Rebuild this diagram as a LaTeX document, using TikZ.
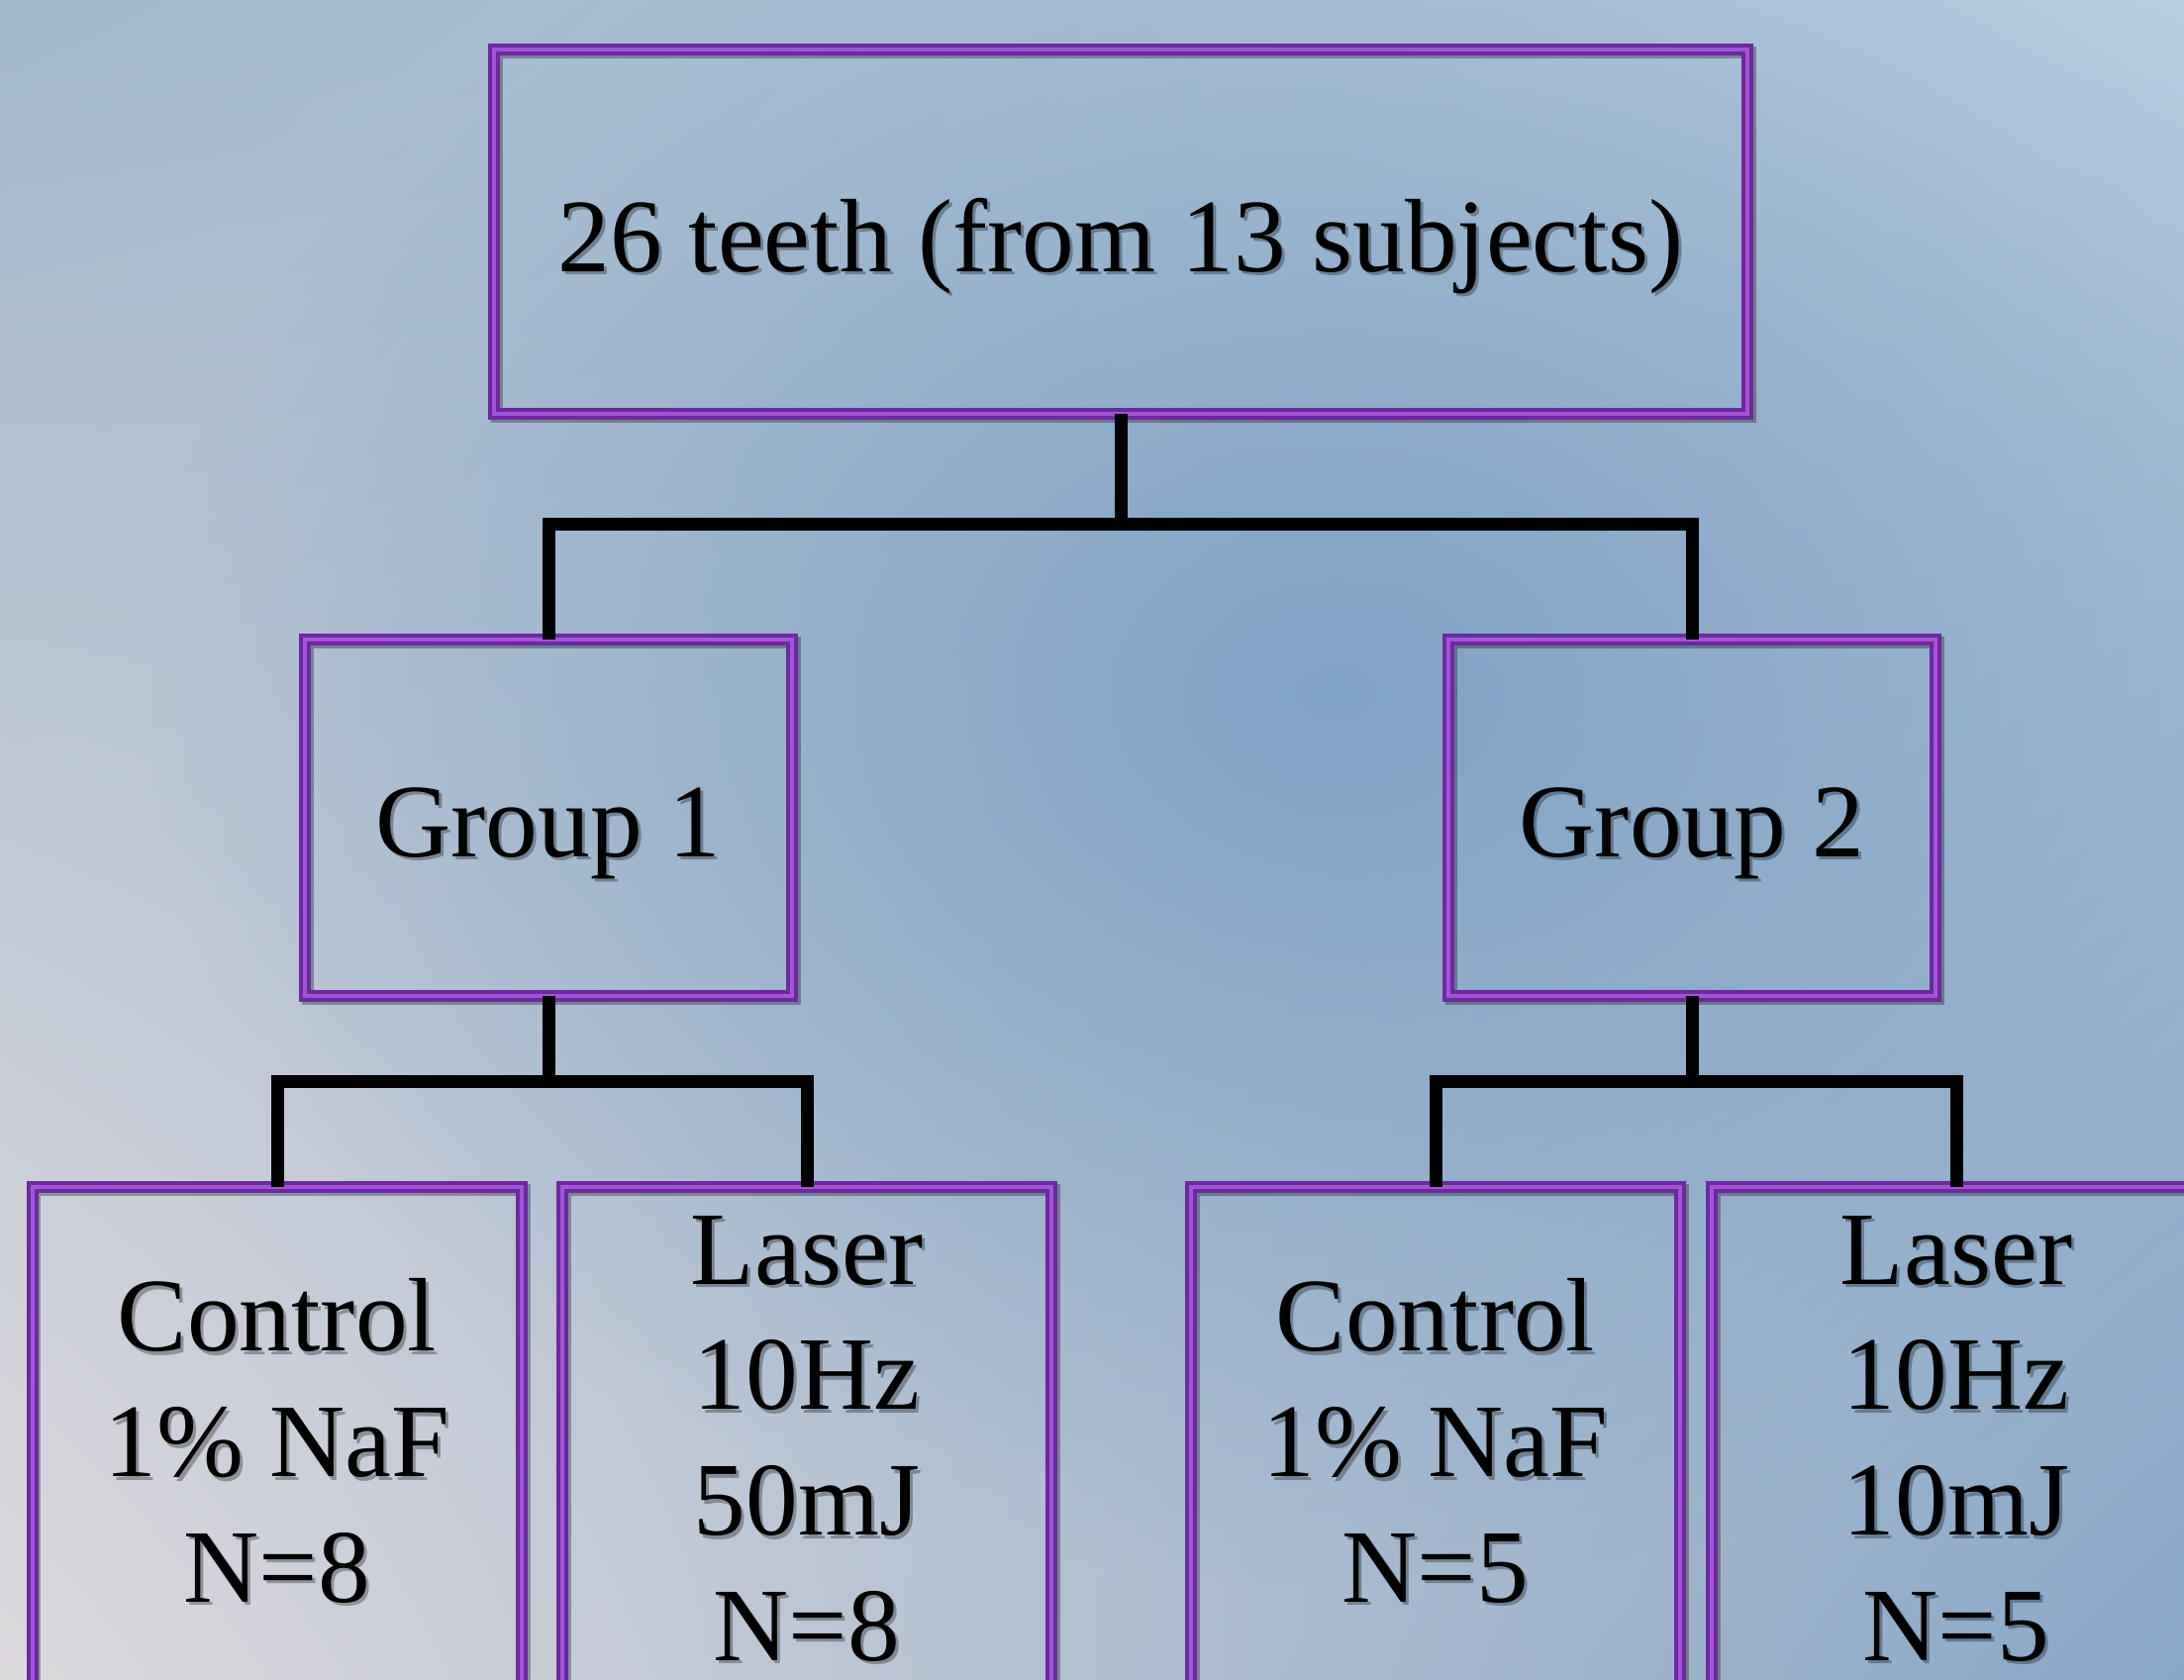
\documentclass[tikz,border=0pt]{standalone}
\usepackage{fontspec}
\setmainfont{Liberation Serif}
\usetikzlibrary{fadings,shadings}

\definecolor{boxline}{RGB}{108,42,158}
\definecolor{boxlite}{RGB}{160,86,214}
\definecolor{bgul}{RGB}{163,184,204}
\definecolor{bgur}{RGB}{184,204,224}
\definecolor{bgll}{RGB}{221,217,221}
\definecolor{bglr}{RGB}{136,166,198}
\definecolor{bgmid}{RGB}{128,162,196}

\tikzfading[name=glow, inner color=transparent!0, outer color=transparent!100]

\tikzset{
  box/.style={draw=boxline, line width=0.12cm, inner sep=0pt, outer sep=0pt,
    preaction={draw=black, opacity=0.3, transform canvas={xshift=0.025cm, yshift=-0.03cm}},
    postaction={draw=boxlite, line width=0.035cm}},
  link/.style={line width=0.13cm, line join=miter},
  txt/.style={font=\fontsize{30}{36}\selectfont, align=center, inner sep=0pt},
  txtshadow/.style={txt, text=black, opacity=0.3}
}

% text with a soft drop shadow: name, position, anchor, text
\newcommand{\shadowlabel}[4]{%
  \node[txtshadow, anchor=#3] (#1s) at ([shift={(0.03,-0.035)}]#2) {#4};
  \node[txt, anchor=#3] (#1) at (#2) {#4};}

\begin{document}
\begin{tikzpicture}
  \useasboundingbox (0,0) rectangle (22.06,-16.96);
  \clip (0,0) rectangle (22.06,-16.96);

  % background
  \shade[upper left=bgul, upper right=bgur, lower left=bgll, lower right=bglr] (0,0) rectangle (22.06,-16.96);
  \fill[bgmid, path fading=glow] (13.5,-7) ellipse (12 and 9);

  % boxes
  \node[box, minimum width=12.66cm, minimum height=3.68cm] (top) at (11.32,-2.34) {};
  \node[box, minimum width=4.92cm, minimum height=3.60cm] (grpA) at (5.54,-8.26) {};
  \node[box, minimum width=4.92cm, minimum height=3.60cm] (grpB) at (17.09,-8.26) {};
  \node[box, minimum width=4.94cm, minimum height=6.01cm] (leafA) at (2.80,-14.995) {};
  \node[box, minimum width=4.94cm, minimum height=6.01cm] (leafB) at (8.15,-14.995) {};
  \node[box, minimum width=4.94cm, minimum height=6.01cm] (leafC) at (14.50,-14.995) {};
  \node[box, minimum width=4.94cm, minimum height=6.01cm] (leafD) at (19.76,-14.995) {};

  % connectors
  \coordinate (jt) at (11.32,-5.29);
  \coordinate (jA) at (5.54,-10.92);
  \coordinate (jB) at (17.09,-10.92);
  \draw[link] (top.south) -- (jt);
  \draw[link] (grpA.north) |- (jt) -| (grpB.north);
  \draw[link] (grpA.south) -- (jA);
  \draw[link] (leafA.north) |- (jA) -| (leafB.north);
  \draw[link] (grpB.south) -- (jB);
  \draw[link] (leafC.north) |- (jB) -| (leafD.north);

  % texts (base = last line)
  \shadowlabel{toptext}{11.32,-2.74}{base}{26 teeth (from 13 subjects)}
  \shadowlabel{grpAtext}{5.54,-8.65}{base}{Group 1}
  \shadowlabel{grpBtext}{17.09,-8.65}{base}{Group 2}
  \shadowlabel{leafAtext}{2.80,-16.18}{base}{Control\\1\% NaF\\N=8}
  \shadowlabel{leafBtext}{8.15,-16.77}{base}{Laser\\10Hz\\50mJ\\N=8}
  \shadowlabel{leafCtext}{14.50,-16.18}{base}{Control\\1\% NaF\\N=5}
  \shadowlabel{leafDtext}{19.76,-16.77}{base}{Laser\\10Hz\\10mJ\\N=5}
\end{tikzpicture}
\end{document}
